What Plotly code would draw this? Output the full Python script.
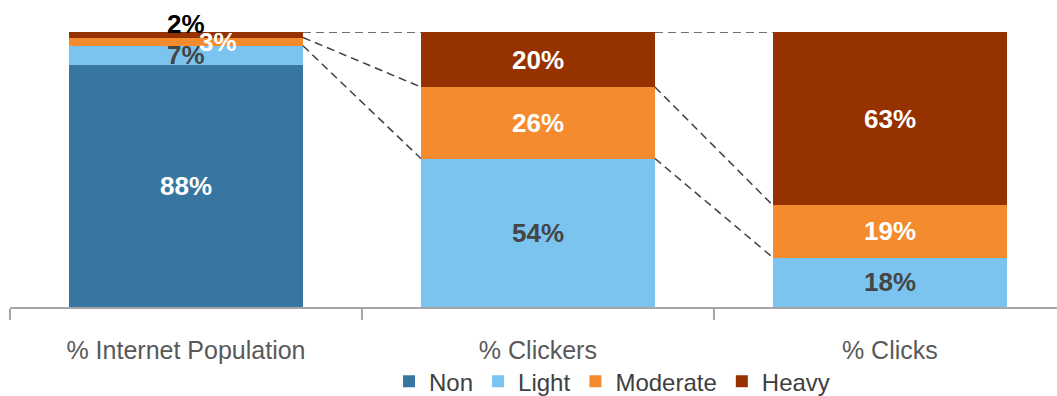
import plotly.graph_objects as go
import numpy as np

categories = ["% Internet Population", "% Clickers", "% Clicks"]
series_names = ["Non", "Light", "Moderate", "Heavy"]
non = [88, 0, 0]
light = [7, 54, 18]
moderate = [3, 26, 19]
heavy = [2, 20, 63]

colors = {"Non": "#3876A2", "Light": "#7BC4F0", "Moderate": "#F48C2F", "Heavy": "#963200"}
label_colors = {"Non": "white", "Light": "#454545", "Moderate": "white", "Heavy": "white"}
FONT = "Liberation Sans, Arial, sans-serif"
BAR_W = 0.665

data = {"Non": non, "Light": light, "Moderate": moderate, "Heavy": heavy}
pos = list(range(len(categories)))

fig = go.Figure()
for name in series_names:
    fig.add_trace(go.Bar(
        x=pos, y=data[name], name=name,
        marker=dict(color=colors[name], line=dict(width=0)),
        width=BAR_W, hoverinfo="skip",
    ))

# cumulative boundaries
vals = np.array([data[n] for n in series_names], dtype=float)
cum = np.cumsum(vals, axis=0)
bottoms = cum - vals

# dashed connectors: tops of Light, Moderate, Heavy between adjacent bars
for si in [1, 2, 3]:
    for ci in range(len(categories) - 1):
        fig.add_trace(go.Scatter(
            x=[ci + BAR_W / 2, ci + 1 - BAR_W / 2],
            y=[cum[si, ci], cum[si, ci + 1]],
            mode="lines", line=dict(color="#404040", width=1.5, dash="8px,5px"),
            showlegend=False, hoverinfo="skip",
        ))

# per-label nudges (pixels) for the crowded first bar
shifts = {(3, 0): (0, 11, "black"), (2, 0): (32, 0, None), (1, 0): (0, 0, None)}

annotations = []
for si, name in enumerate(series_names):
    for ci in range(len(categories)):
        v = vals[si, ci]
        if v <= 0:
            continue
        xs, ys, col = shifts.get((si, ci), (0, 0, None))
        annotations.append(dict(
            x=ci, y=(bottoms[si, ci] + cum[si, ci]) / 2, xref="x", yref="y",
            text=f"<b>{int(v)}%</b>", showarrow=False,
            xshift=xs, yshift=ys,
            font=dict(family=FONT, size=26, color=col or label_colors[name]),
        ))

boundaries = [p - 0.5 for p in pos] + [pos[-1] + 0.5]

fig.update_layout(
    barmode="stack",
    width=1057, height=396,
    margin=dict(l=10, r=0, t=32, b=89, autoexpand=False),
    plot_bgcolor="white", paper_bgcolor="white",
    annotations=annotations,
    showlegend=True,
    legend=dict(
        orientation="h", x=0.575, xanchor="center", y=-0.19, yanchor="top",
        font=dict(family=FONT, size=24, color="#404040"),
        itemwidth=30, traceorder="normal", tracegroupgap=0,
        bgcolor="rgba(0,0,0,0)",
    ),
    xaxis=dict(
        tickmode="array", tickvals=pos, ticktext=categories,
        range=[-0.5, 2.475], showgrid=False, zeroline=False,
        showline=True, linecolor="#A6A6A6", linewidth=1.5,
        ticks="", ticklabelstandoff=20,
        tickfont=dict(family=FONT, size=25, color="#595959"),
        minor=dict(tickmode="array", tickvals=boundaries, ticks="outside",
                   ticklen=11, tickcolor="#A6A6A6", tickwidth=1.5, showgrid=False),
        type="linear",
    ),
    yaxis=dict(range=[0, 100], visible=False, showgrid=False),
)

fig.write_html("out.html")
